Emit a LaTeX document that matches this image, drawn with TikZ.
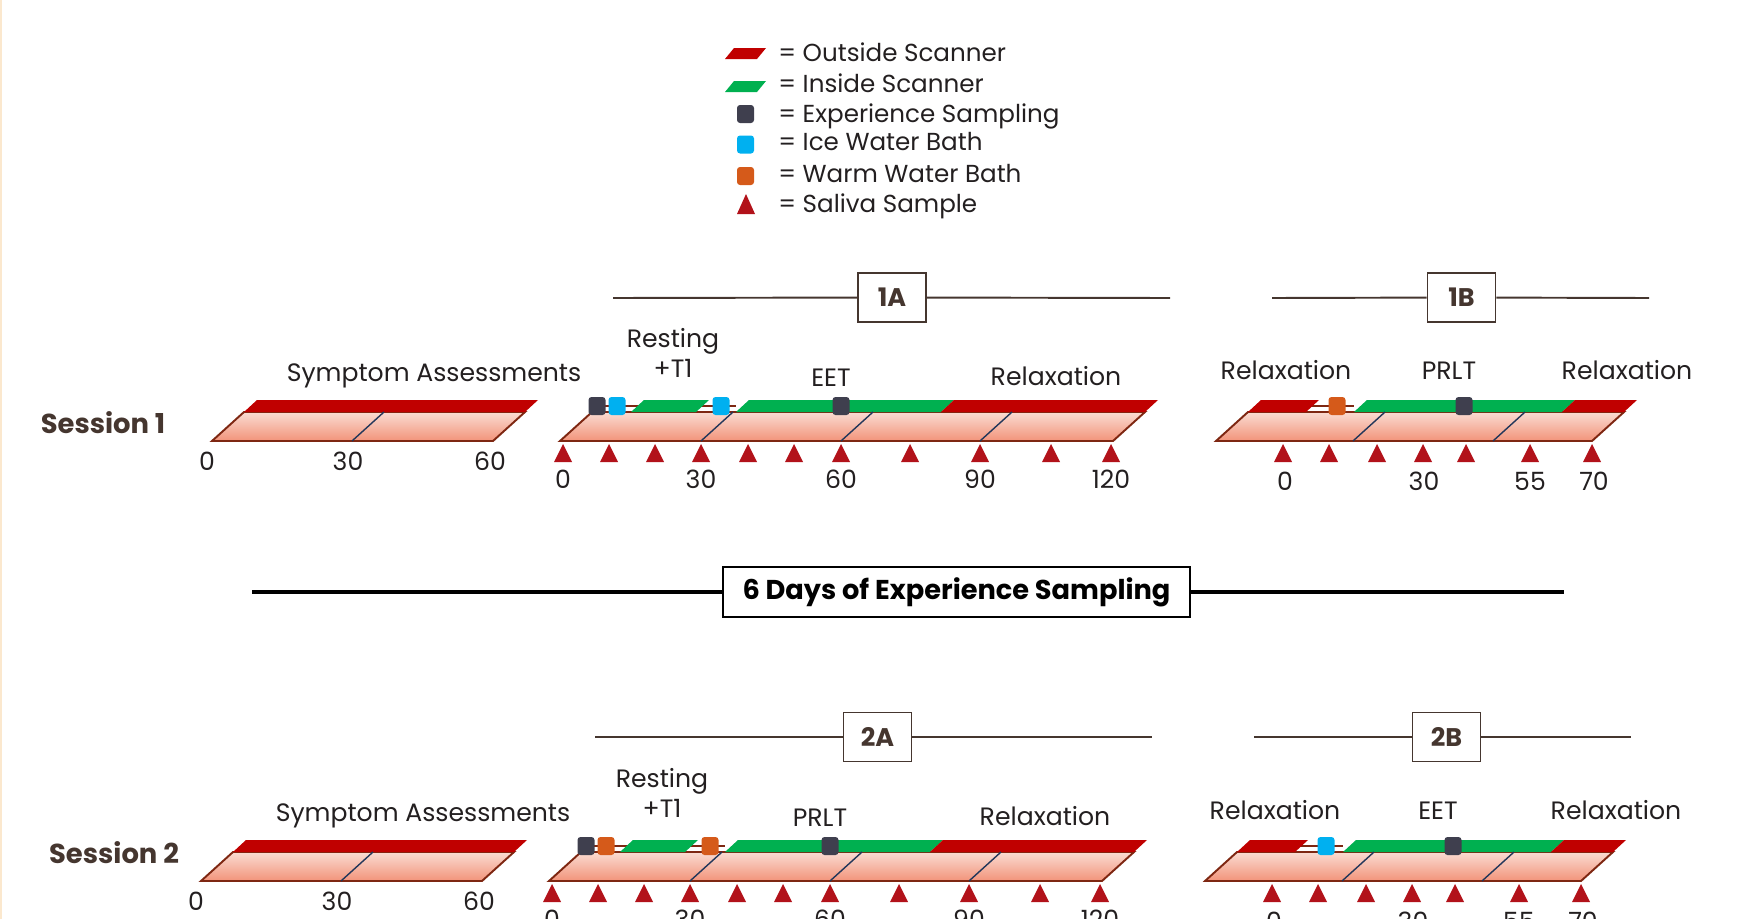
\documentclass[tikz,border=0pt]{standalone}
\usepackage{fontspec}
\setmainfont{Poppins}
\usepackage{xcolor}
\usepackage{tikz}
\usetikzlibrary{positioning}
\definecolor{outred}{HTML}{C00000}
\definecolor{ingreen}{HTML}{00B050}
\definecolor{esdark}{HTML}{3F3F4E}
\definecolor{iceblue}{HTML}{00B0F0}
\definecolor{warm}{HTML}{D55A1A}
\definecolor{saliva}{HTML}{B2121A}
\definecolor{slabtop}{HTML}{FADCD2}
\definecolor{slabbot}{HTML}{F2937A}
\definecolor{slabline}{HTML}{7E2712}
\definecolor{divider}{HTML}{23375A}
\definecolor{ink}{HTML}{231F20}
\definecolor{brown}{HTML}{45362F}
\definecolor{edge}{HTML}{FBE8CE}
\tikzset{slab/.style={draw=slabline,line width=1.1pt,top color=slabtop,bottom color=slabbot},divline/.style={draw=divider,line width=.8pt},tline/.style={draw=slabline,line width=1pt},
 evmark/.style={rectangle,rounded corners=.6mm,inner sep=0pt,minimum width=3.4mm,minimum height=3.6mm},
 lbl/.style={text=ink,anchor=base,font=\fontsize{14.3}{17}\selectfont},keytxt/.style={text=ink,anchor=base west,inner sep=0pt,font=\fontsize{14}{16}\selectfont},
 hdbox/.style={draw=brown,line width=1pt,fill=white,minimum width=13.6mm,minimum height=9.8mm,inner sep=0pt,text=brown,font=\bfseries\fontsize{14.5}{17}\selectfont},
 hdline/.style={draw=brown,line width=1.1pt},sess/.style={text=brown,anchor=base,font=\bfseries\fontsize{15.6}{19}\selectfont}}

\begin{document}
\begin{tikzpicture}[x=.2mm,y=-.2mm]
 \useasboundingbox (0,0) rectangle (1751,919);
 \fill[edge] (0,0) rectangle (2.5,919);
 % key
 \fill[outred] (725,59) -- (757,59) -- (766,48) -- (734,48) -- cycle; \node[keytxt] (kout) at (778,62) {= Outside Scanner};
 \fill[ingreen] (725,92) -- (757,92) -- (766,81) -- (734,81) -- cycle; \node[keytxt] (kin) at (778,92) {= Inside Scanner};
 \node[evmark,fill=esdark] (kes) at (745.5,114) {}; \node[keytxt] (kest) at (778,122) {= Experience Sampling};
 \node[evmark,fill=iceblue] (kice) at (745.5,144.5) {}; \node[keytxt] (kicet) at (778,150) {= Ice Water Bath};
 \node[evmark,fill=warm] (kwarm) at (745.5,176) {}; \node[keytxt] (kwarmt) at (778,182) {= Warm Water Bath};
 \fill[saliva] (737,214) -- (755,214) -- (746,194) -- cycle; \node[keytxt] (ksal) at (778,212) {= Saliva Sample};
 % headers
 \node[hdbox] (h1a) at (892,297.5) {1A}; \coordinate (h1al) at (613,298); \coordinate (h1ar) at (1170,298);
 \draw[hdline] (h1al) -- (h1a); \draw[hdline] (h1a) -- (h1ar);
 \node[hdbox] (h1b) at (1461.5,297.5) {1B}; \coordinate (h1bl) at (1272,298); \coordinate (h1br) at (1649,298);
 \draw[hdline] (h1bl) -- (h1b); \draw[hdline] (h1b) -- (h1br);
 \node[hdbox] (h2a) at (877.5,737) {2A}; \coordinate (h2al) at (595,737); \coordinate (h2ar) at (1152,737);
 \draw[hdline] (h2al) -- (h2a); \draw[hdline] (h2a) -- (h2ar);
 \node[hdbox] (h2b) at (1446.5,737) {2B}; \coordinate (h2bl) at (1254,737); \coordinate (h2br) at (1631,737);
 \draw[hdline] (h2bl) -- (h2b); \draw[hdline] (h2b) -- (h2br);
 \node[draw=black,line width=1.1pt,fill=white,minimum width=93.4mm,minimum height=10mm,inner sep=0pt,font=\bfseries\fontsize{15.5}{18}\selectfont] (days) at (956.5,592) {6 Days of Experience Sampling};
 \coordinate (daysl) at (252,592); \coordinate (daysr) at (1564,592);
 \draw[line width=2.3pt] (daysl) -- (days); \draw[line width=2.3pt] (days) -- (daysr);
 \node[sess] (s1) at (103,433) {Session 1}; \node[sess] (s2) at (114,863) {Session 2};
 % session 1
 \draw[slab] (212,441) -- (493,441) -- (525,412) -- (244,412) -- cycle;
 \fill[outred] (244,412) -- (525,412) -- (538,400) -- (257,400) -- cycle; \draw[divline] (352,441) -- (384,412);
 \node[lbl] (sym1) at (434,381) {Symptom Assessments};
 \foreach \t/\v in {207/0,348/30,490/60} \node[lbl] (n1s\v) at (\t,470) {\v};
 \draw[slab] (560,441) -- (1113,441) -- (1145,412) -- (592,412) -- cycle;
 \draw[tline] (597,406) -- (736,406);
 \fill[ingreen] (631,412) -- (696,412) -- (709,400) -- (644,400) -- cycle;
 \fill[ingreen] (736,412) -- (941,412) -- (954,400) -- (749,400) -- cycle;
 \fill[outred] (941,412) -- (1145,412) -- (1158,400) -- (954,400) -- cycle;
 \foreach \t in {701,841,980} \draw[divline] (\t,441) -- ++(32,-29);
 \node[evmark,fill=esdark] (a1) at (597,406) {}; \node[evmark,fill=iceblue] (a2) at (617,406) {};
 \node[evmark,fill=iceblue] (a3) at (721,406) {}; \node[evmark,fill=esdark] (a4) at (841,406) {};
 \foreach \t in {563,609,655,701,748,794,841,910,980,1051,1111} \fill[saliva] (\t-9,462) -- (\t+9,462) -- (\t,444) -- cycle;
 \foreach \t/\v in {563/0,701/30,841/60,980/90,1111/120} \node[lbl] (n1a\v) at (\t,488) {\v};
 \node[lbl,anchor=center,align=center] (rest1) at (673,353) {Resting\\+T1};
 \node[lbl] (eet1) at (831,386) {EET}; \node[lbl] (rel1a) at (1056,385) {Relaxation};
 \draw[slab] (1216,441) -- (1592,441) -- (1624,412) -- (1248,412) -- cycle;
 \draw[tline] (1306,406) -- (1354,406);
 \fill[outred] (1248,412) -- (1306,412) -- (1319,400) -- (1261,400) -- cycle;
 \fill[ingreen] (1354,412) -- (1562,412) -- (1575,400) -- (1367,400) -- cycle;
 \fill[outred] (1562,412) -- (1624,412) -- (1637,400) -- (1575,400) -- cycle;
 \foreach \t in {1353,1493} \draw[divline] (\t,441) -- ++(32,-29);
 \node[evmark,fill=warm] (b1) at (1337,406) {}; \node[evmark,fill=esdark] (b2) at (1464,406) {};
 \foreach \t in {1283,1329,1377,1423,1466,1530,1592} \fill[saliva] (\t-9,462) -- (\t+9,462) -- (\t,444) -- cycle;
 \foreach \t/\v in {1285/0,1424/30,1530/55,1594/70} \node[lbl] (n1b\v) at (\t,490) {\v};
 \node[lbl] (rel1b) at (1286,379) {Relaxation}; \node[lbl] (prlt1) at (1449,379) {PRLT}; \node[lbl] (rel1c) at (1627,379) {Relaxation};
 % session 2
 \begin{scope}[shift={(-11,440)}]
 \draw[slab] (212,441) -- (493,441) -- (525,412) -- (244,412) -- cycle;
 \fill[outred] (244,412) -- (525,412) -- (538,400) -- (257,400) -- cycle; \draw[divline] (352,441) -- (384,412);
 \node[lbl] (sym2) at (434,381) {Symptom Assessments};
 \foreach \t/\v in {207/0,348/30,490/60} \node[lbl] (n2s\v) at (\t,470) {\v};
 \draw[slab] (560,441) -- (1113,441) -- (1145,412) -- (592,412) -- cycle;
 \draw[tline] (597,406) -- (736,406);
 \fill[ingreen] (631,412) -- (696,412) -- (709,400) -- (644,400) -- cycle;
 \fill[ingreen] (736,412) -- (941,412) -- (954,400) -- (749,400) -- cycle;
 \fill[outred] (941,412) -- (1145,412) -- (1158,400) -- (954,400) -- cycle;
 \foreach \t in {701,841,980} \draw[divline] (\t,441) -- ++(32,-29);
 \node[evmark,fill=esdark] (c1) at (597,406) {}; \node[evmark,fill=warm] (c2) at (617,406) {};
 \node[evmark,fill=warm] (c3) at (721,406) {}; \node[evmark,fill=esdark] (c4) at (841,406) {};
 \foreach \t in {563,609,655,701,748,794,841,910,980,1051,1111} \fill[saliva] (\t-9,462) -- (\t+9,462) -- (\t,444) -- cycle;
 \foreach \t/\v in {563/0,701/30,841/60,980/90,1111/120} \node[lbl] (n2a\v) at (\t,488) {\v};
 \node[lbl,anchor=center,align=center] (rest2) at (673,353) {Resting\\+T1};
 \node[lbl] (prlt2) at (831,386) {PRLT}; \node[lbl] (rel2a) at (1056,385) {Relaxation};
 \draw[slab] (1216,441) -- (1592,441) -- (1624,412) -- (1248,412) -- cycle;
 \draw[tline] (1306,406) -- (1354,406);
 \fill[outred] (1248,412) -- (1306,412) -- (1319,400) -- (1261,400) -- cycle;
 \fill[ingreen] (1354,412) -- (1562,412) -- (1575,400) -- (1367,400) -- cycle;
 \fill[outred] (1562,412) -- (1624,412) -- (1637,400) -- (1575,400) -- cycle;
 \foreach \t in {1353,1493} \draw[divline] (\t,441) -- ++(32,-29);
 \node[evmark,fill=iceblue] (d1) at (1337,406) {}; \node[evmark,fill=esdark] (d2) at (1464,406) {};
 \foreach \t in {1283,1329,1377,1423,1466,1530,1592} \fill[saliva] (\t-9,462) -- (\t+9,462) -- (\t,444) -- cycle;
 \foreach \t/\v in {1285/0,1424/30,1530/55,1594/70} \node[lbl] (n2b\v) at (\t,490) {\v};
 \node[lbl] (rel2b) at (1286,379) {Relaxation}; \node[lbl] (eet2) at (1449,379) {EET}; \node[lbl] (rel2c) at (1627,379) {Relaxation};
 \end{scope}
\end{tikzpicture}
\end{document}
